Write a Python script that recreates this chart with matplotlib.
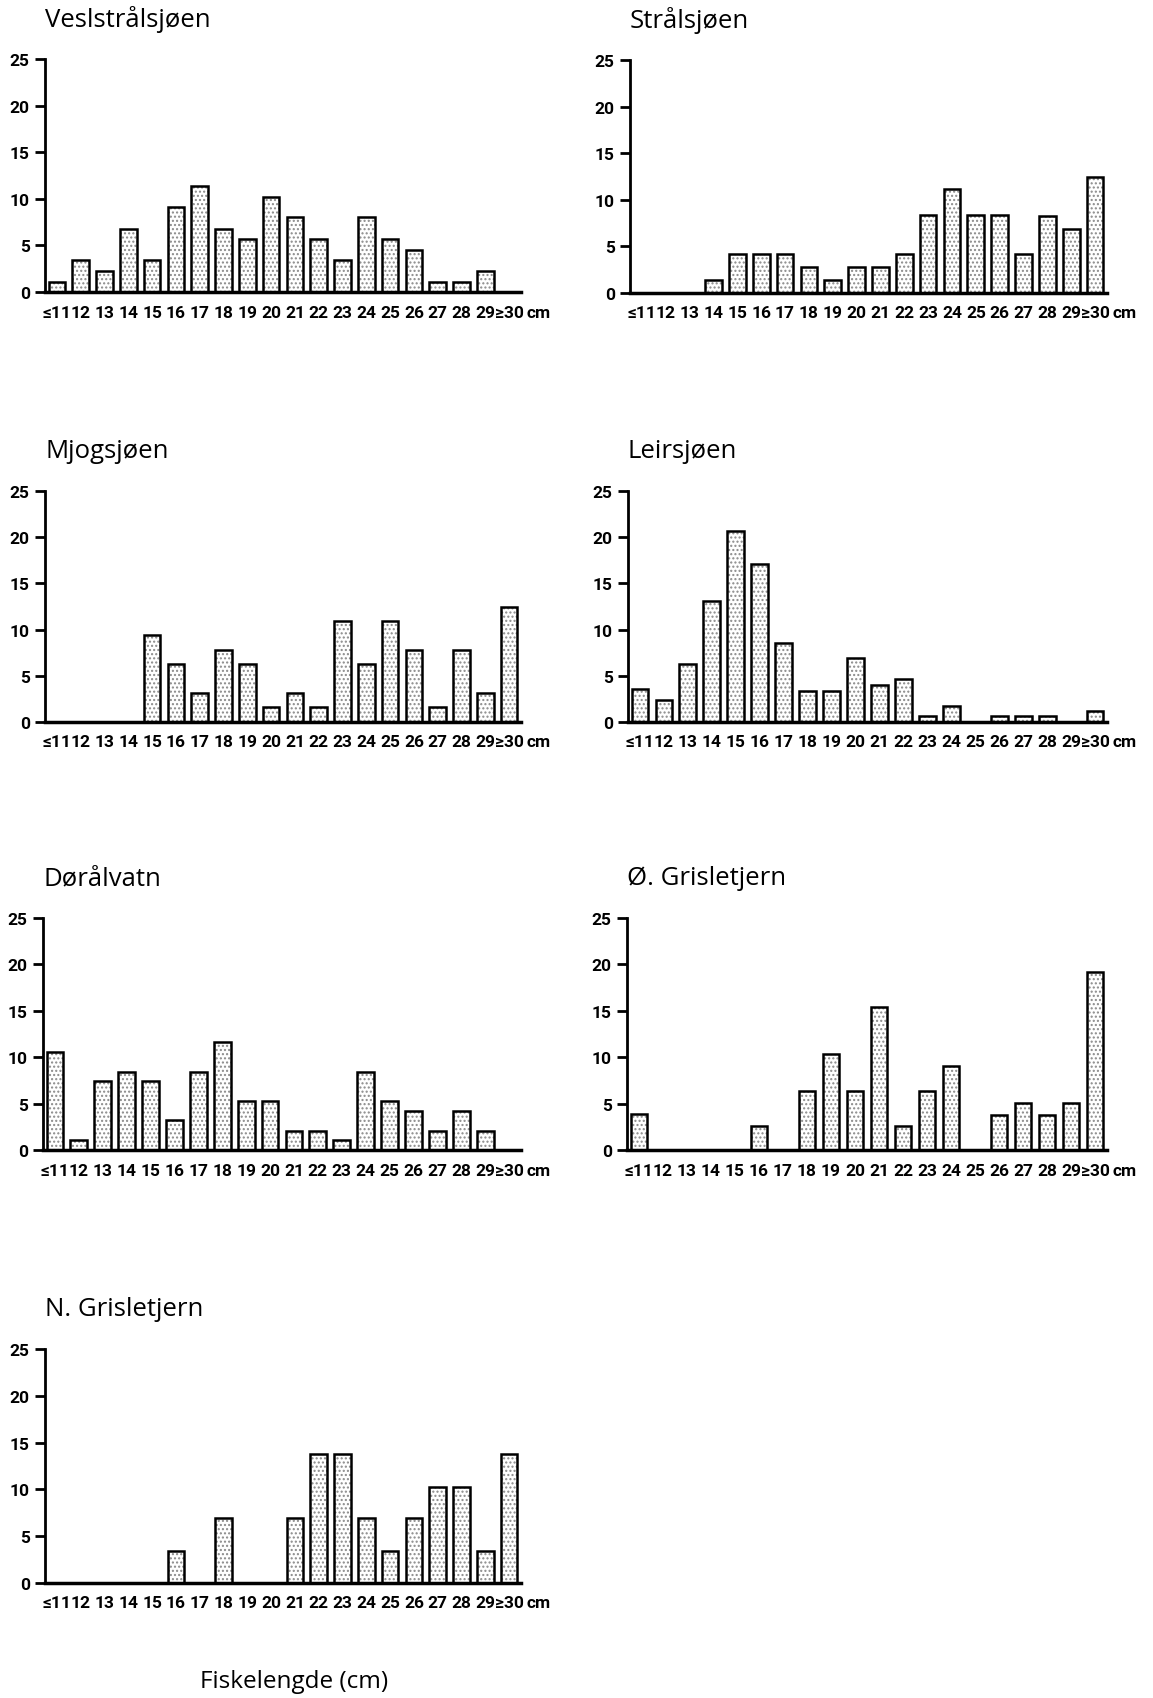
import matplotlib
matplotlib.use("Agg")
import matplotlib.pyplot as plt

# lengdeklasser
cats = ['≤11', '12', '13', '14', '15', '16', '17', '18', '19', '20',
        '21', '22', '23', '24', '25', '26', '27', '28', '29', '≥30']

# prosent fisk i hver lengdeklasse
vesl = [1.1, 3.4, 2.3, 6.8, 3.4, 9.1, 11.4, 6.8, 5.7, 10.2,
        8.0, 5.7, 3.4, 8.0, 5.7, 4.5, 1.1, 1.1, 2.3, 0]
straal = [0, 0, 0, 1.4, 4.2, 4.2, 4.2, 2.8, 1.4, 2.8,
          2.8, 4.2, 8.4, 11.2, 8.4, 8.4, 4.2, 8.3, 6.9, 12.4]
mjog = [0, 0, 0, 0, 9.4, 6.3, 3.1, 7.8, 6.3, 1.6,
        3.1, 1.6, 10.9, 6.3, 10.9, 7.8, 1.6, 7.8, 3.1, 12.5]
leir = [3.6, 2.4, 6.3, 13.1, 20.7, 17.1, 8.6, 3.4, 3.4, 6.9,
        4.0, 4.6, 0.6, 1.7, 0, 0.6, 0.6, 0.6, 0, 1.2]
doral = [10.6, 1.1, 7.4, 8.4, 7.4, 3.2, 8.4, 11.6, 5.3, 5.3,
         2.1, 2.1, 1.1, 8.4, 5.3, 4.2, 2.1, 4.2, 2.1, 0]
ogris = [3.9, 0, 0, 0, 0, 2.6, 0, 6.4, 10.3, 6.4,
         15.4, 2.6, 6.4, 9.0, 0, 3.8, 5.1, 3.8, 5.1, 19.2]
ngris = [0, 0, 0, 0, 0, 3.4, 0, 6.9, 0, 0,
         6.9, 13.8, 13.8, 6.9, 3.4, 6.9, 10.3, 10.3, 3.4, 13.8]

names = ['Veslstrålsjøen', 'Strålsjøen', 'Mjogsjøen', 'Leirsjøen',
         'Dørålvatn', 'Ø. Grisletjern', 'N. Grisletjern']
series = [vesl, straal, mjog, leir, doral, ogris, ngris]

tick_font = ['Roboto', 'DejaVu Sans']
tick_size = 12.5
title_font = ['Open Sans', 'DejaVu Sans']

W, H = 1153, 1699
fig = plt.figure(figsize=(W / 100, H / 100), dpi=100)

# axes i piksler: venstre, høyre, topp, bunn
boxes = [(45, 521, 60, 293), (630, 1107, 61, 294),
         (45, 521, 492, 723), (628, 1107, 492, 723),
         (43, 521, 919, 1151), (627, 1107, 919, 1151),
         (45, 521, 1350, 1584)]

x = list(range(len(cats)))
for name, vals, (l, r, t, b) in zip(names, series, boxes):
    ax = fig.add_axes([l / W, 1 - b / H, (r - l) / W, (b - t) / H])
    ax.bar(x, vals, width=0.7, color='white', hatch='....', edgecolor='#8a8a8a', linewidth=0)
    ax.bar(x, vals, width=0.7, fill=False, edgecolor='black', linewidth=1.8)
    ax.set_xlim(-0.5, 19.5)
    ax.set_ylim(0, 25)
    ax.spines[['top', 'right']].set_visible(False)
    ax.spines['left'].set_linewidth(2)
    ax.spines['bottom'].set_linewidth(2.5)
    ax.set_yticks([0, 5, 10, 15, 20, 25])
    ax.tick_params(axis='y', length=7, width=2, pad=4)
    ax.set_xticks(x)
    ax.set_xticklabels(cats)
    ax.tick_params(axis='x', length=0, pad=9)
    for lab in ax.get_xticklabels() + ax.get_yticklabels():
        lab.set_family(tick_font)
        lab.set_fontsize(tick_size)
        lab.set_fontweight('bold')
    ax.annotate('cm', xy=(19.5, 0), xycoords=('data', 'axes fraction'), xytext=(4, -9),
                textcoords='offset points', family=tick_font, fontsize=tick_size,
                fontweight='bold', ha='left', va='top')
    ax.annotate(name, xy=(0, 1), xycoords='axes fraction', xytext=(0, 29),
                textcoords='offset points', ha='left', va='center',
                fontsize=18.5, family=title_font)

fig.text(294 / W, 1 - 1682 / H, 'Fiskelengde (cm)', ha='center', va='center',
         fontsize=17.5, family=title_font)

fig.savefig('out.png', dpi=100, facecolor='white')
